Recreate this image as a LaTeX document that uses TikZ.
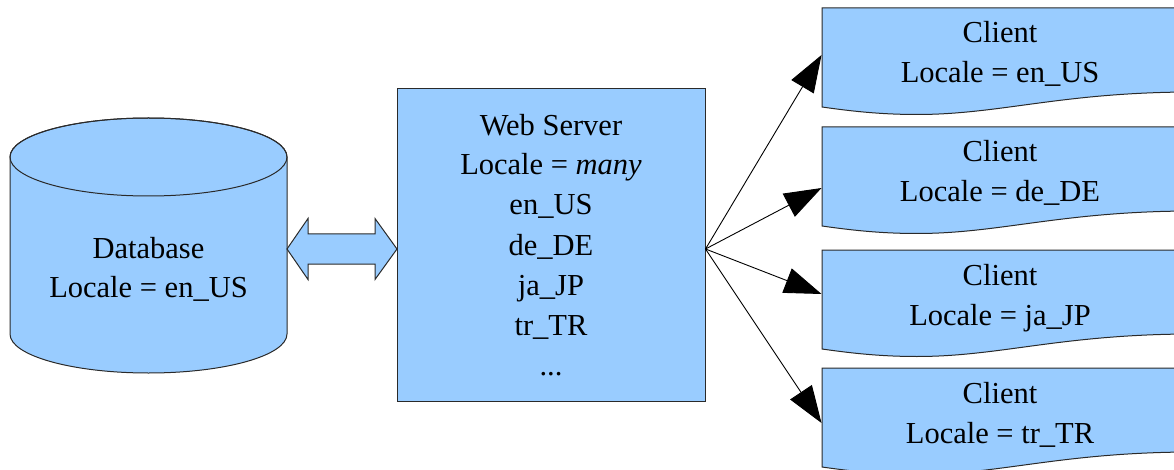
\documentclass[tikz,border=0pt]{standalone}
\usepackage{fontspec}
\setmainfont{Liberation Serif}
\usetikzlibrary{arrows.meta}
\definecolor{boxblue}{HTML}{99CCFF}
\definecolor{strokegray}{HTML}{2A2A2A}
\tikzset{
  shapefill/.style={fill=boxblue, draw=strokegray, line width=1pt, line join=miter},
  lbl/.style={anchor=base, inner sep=0pt, font=\fontsize{30.5}{40}\selectfont},
  link/.style={draw=black, line width=0.9pt, -{Triangle[length=37pt,width=26pt]}},
}
\begin{document}
\begin{tikzpicture}[x=1pt,y=1pt]
\useasboundingbox (0,0) rectangle (1174,469);

% database cylinder
\path[shapefill] (10,312) -- (10,135)
  arc[start angle=180, end angle=360, x radius=138.5, y radius=39]
  -- (287,312)
  arc[start angle=0, end angle=180, x radius=138.5, y radius=39] -- cycle;
\draw[strokegray, line width=1pt] (148.5,312) ellipse[x radius=138.5, y radius=39];
\node[lbl] (dbname) at (148.5,211) {Database};
\node[lbl] (dbloc) at (148.5,172) {Locale = en\_US};

% web server box and its text
\node[shapefill, minimum width=308pt, minimum height=312pt, inner sep=0pt] (srv) at (551,224) {};
\foreach \txt/\yb [count=\i] in {Web Server/333, Locale = \textit{many}/294, en\_US/254,
    de\_DE/214, ja\_JP/174, tr\_TR/134}
  \node[lbl] (srvline\i) at (551,\yb) {\txt};
\node[lbl] (srvmore) at (551,94) {...};

% two-way link between database and server
\coordinate (dbR) at (287,220);
\coordinate (srvL) at (397,220);
\path[shapefill] (dbR) -- (308,250.5) -- (308,235) -- (375,235) -- (375,250.5)
  -- (srvL) -- (375,189.5) -- (375,205) -- (308,205) -- (308,189.5) -- cycle;

% clients (document shapes running off the right side)
\begin{scope}
\clip (0,0) rectangle (1174,469);
\foreach \ytop/\ytip/\loc [count=\i] in {461/414/en\_US, 342/281/de\_DE, 219/175/ja\_JP, 101/46/tr\_TR}{
  \pgfmathsetmacro\yb{\ytop-99}
  \path[shapefill] (822,\ytop) -- (1190,\ytop) -- (1190,\yb+15)
    .. controls (1060,\yb+14.5) and (1000,\yb-7.5) .. (917,\yb-7.5)
    .. controls (880,\yb-7.5) and (850,\yb-4) .. (822,\yb) -- cycle;
  \node[lbl] (client\i) at (1000,\ytop-35) {Client};
  \node[lbl] (clientloc\i) at (1000,\ytop-75) {Locale = \loc};
  \coordinate (tip\i) at (821.5,\ytip);
}
\end{scope}

% server to client connections
\foreach \i in {1,...,4}
  \draw[link] ([yshift=-4pt]srv.east) -- (tip\i);
\end{tikzpicture}
\end{document}
